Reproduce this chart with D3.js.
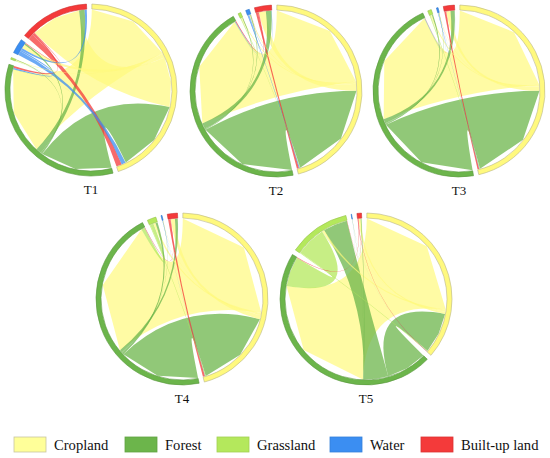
<!DOCTYPE html>
<html>
<head>
<meta charset="utf-8">
<script src="https://cdn.jsdelivr.net/npm/d3@7"></script>
<style>
  body { margin: 0; background: #fff; }
  svg { display: block; }
</style>
</head>
<body>
<svg id="chart" width="550" height="458"></svg>
<script>
var classes = ["Cropland", "Forest", "Grassland", "Water", "Built-up land"];
var colors = ["#fff97e", "#6cb54b", "#b4e85c", "#3b8ef2", "#f43a3a"];
var periods = ["T1", "T2", "T3", "T4", "T5"];

// transfer matrices, rows = from, columns = to (same order as classes)
var t1 = [
  [0, 62, 0.5, 3, 36],
  [52, 0, 0.3, 1, 4],
  [0.2, 0.2, 0, 0, 0],
  [3, 1, 0, 0, 1.5],
  [4, 1.5, 0, 0.5, 0]
];
var t2 = [
  [0, 82, 0.8, 0.7, 5],
  [72, 0, 0.5, 0.5, 4],
  [0.3, 0.3, 0, 0, 0],
  [0.6, 0.4, 0, 0, 0.2],
  [1.5, 0.6, 0, 0.1, 0]
];
var t3 = [
  [0, 85, 1, 0.3, 3],
  [75, 0, 0.8, 0.3, 3],
  [0.4, 0.3, 0, 0, 0],
  [0.2, 0.2, 0, 0, 0.05],
  [1.2, 0.2, 0, 0.05, 0]
];
var t4 = [
  [0, 99, 1.5, 0.2, 3],
  [58, 0, 1.5, 0.2, 2],
  [0.5, 2.5, 0, 0, 0],
  [0.1, 0.1, 0, 0, 0.02],
  [1.5, 0.3, 0, 0.02, 0]
];
var t5 = [
  [0, 99, 1.5, 0.1, 1.5],
  [30, 0, 18, 0.1, 0.5],
  [0.5, 22, 0, 0, 0.3],
  [0.05, 0.05, 0, 0, 0],
  [0.3, 0.3, 0.2, 0, 0]
];
var matrices = [t1, t2, t3, t4, t5];

// layout
var centers = [[91, 90], [276, 91], [459, 91], [182, 299], [366, 299]];
var rOuter = 86, rInner = 81, rRibbon = 80.5;
var pad = 3.6 * Math.PI / 180;
var serif = "'Liberation Serif', 'Times New Roman', Times, serif";

var svg = d3.select("#chart").attr("font-family", serif);
var arc = d3.arc().innerRadius(rInner).outerRadius(rOuter);
var ribbon = d3.ribbon().radius(rRibbon);

// each class gets its outgoing flows first, then the incoming ones
function layoutChord(m) {
  var n = m.length, sizes = [];
  for (var i = 0; i < n; i++) {
    var s = 0;
    for (var j = 0; j < n; j++) if (j != i) s += m[i][j] + m[j][i];
    sizes.push(s);
  }
  var k = d3.scaleLinear()
      .domain([0, d3.sum(sizes)])
      .range([0, 2 * Math.PI - n * pad]);

  var groups = [], outEnd = {}, inEnd = {};
  var a = 0.01;
  for (var i = 0; i < n; i++) {
    groups.push({index: i, startAngle: a, endAngle: a + k(sizes[i])});
    var c = a;
    for (var j = 0; j < n; j++) {
      if (j == i) continue;
      outEnd[i + "-" + j] = {startAngle: c, endAngle: c + k(m[i][j])};
      c += k(m[i][j]);
    }
    for (var j = 0; j < n; j++) {
      if (j == i) continue;
      inEnd[j + "-" + i] = {startAngle: c, endAngle: c + k(m[j][i])};
      c += k(m[j][i]);
    }
    a += k(sizes[i]) + pad;
  }

  var chords = [];
  for (var i = 0; i < n; i++)
    for (var j = 0; j < n; j++)
      if (i != j && m[i][j] > 0)
        chords.push({from: i, value: m[i][j], source: outEnd[i + "-" + j], target: inEnd[i + "-" + j]});
  chords.sort(function(x, y) { return y.value - x.value; });
  return {groups: groups, chords: chords};
}

// the ends of the ribbons are drawn as two straight pieces, like the original
function ribbonPath(d) {
  var p = d3.path();
  ribbon.context({
    moveTo: function(x, y) { p.moveTo(x, y); },
    lineTo: function(x, y) { p.lineTo(x, y); },
    arc: function(x, y, r, a0, a1) {
      for (var s = 1; s <= 2; s++) {
        var t = a0 + (a1 - a0) * s / 2;
        p.lineTo(x + r * Math.cos(t), y + r * Math.sin(t));
      }
    },
    quadraticCurveTo: function(cx, cy, x, y) { p.quadraticCurveTo(cx, cy, x, y); },
    closePath: function() { p.closePath(); }
  })(d);
  return p.toString();
}

function ringStroke(c, i) {
  return i == 0 ? "#b9b68a" : d3.color(c).darker(0.5);
}

matrices.forEach(function(m, idx) {
  var lay = layoutChord(m);
  var g = svg.append("g")
      .attr("transform", "translate(" + centers[idx][0] + "," + centers[idx][1] + ")");

  g.append("g").selectAll("path")
      .data(lay.chords)
      .enter().append("path")
      .attr("d", ribbonPath)
      .style("fill", function(d) { return colors[d.from]; })
      .style("fill-opacity", function(d) { return d.from == 0 ? 0.7 : 0.75; });

  g.append("g").selectAll("path")
      .data(lay.groups)
      .enter().append("path")
      .attr("d", arc)
      .style("fill", function(d) { return colors[d.index]; })
      .style("stroke", function(d) { return ringStroke(colors[d.index], d.index); })
      .style("stroke-width", 0.6);

  g.append("text")
      .attr("y", 104)
      .attr("text-anchor", "middle")
      .attr("font-family", serif)
      .style("font-family", serif)
      .style("font-size", "13px")
      .style("fill", "#111")
      .text(periods[idx]);
});

// legend
var legendX = [14, 125, 217, 330, 421];
var legend = svg.append("g").selectAll("g")
    .data(classes)
    .enter().append("g")
    .attr("transform", function(d, i) { return "translate(" + legendX[i] + ",437)"; });

legend.append("rect")
    .attr("width", 32)
    .attr("height", 15)
    .style("fill", function(d, i) { return i == 0 ? "#ffff99" : colors[i]; })
    .style("stroke", function(d, i) { return i == 0 ? "#c8c6a0" : d3.color(colors[i]).darker(0.3); })
    .style("stroke-width", 0.8);

legend.append("text")
    .attr("x", 40)
    .attr("y", 13)
    .attr("font-family", serif)
    .style("font-family", serif)
    .style("font-size", "14.6px")
    .style("fill", "#111")
    .text(function(d) { return d; });
</script>
</body>
</html>
